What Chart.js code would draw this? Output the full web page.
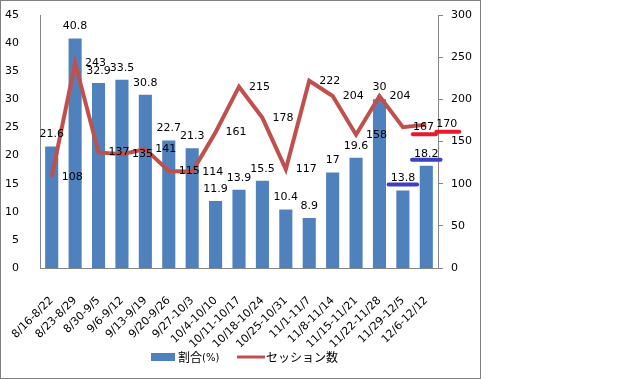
<!DOCTYPE html>
<html>
<head>
<meta charset="utf-8">
<script src="https://cdn.jsdelivr.net/npm/chart.js@4.4.1/dist/chart.umd.min.js"></script>
<style>
  html, body { margin: 0; padding: 0; background: #fff; }
  #wrap { position: absolute; left: 0; top: 0; width: 481px; height: 379px; }
  #frame {
    position: absolute; left: 0; top: 0; width: 481px; height: 379px;
    border: 1px solid #808080; box-sizing: border-box; pointer-events: none;
  }
</style>
</head>
<body>
<div id="wrap"><canvas id="week_chart"></canvas></div>
<div id="frame"></div>
<script>
const categories = [
    '8/16-8/22', '8/23-8/29', '8/30-9/5', '9/6-9/12', '9/13-9/19',
    '9/20-9/26', '9/27-10/3', '10/4-10/10', '10/11-10/17', '10/18-10/24',
    '10/25-10/31', '11/1-11/7', '11/8-11/14', '11/15-11/21', '11/22-11/28',
    '11/29-12/5', '12/6-12/12'
];
const shareValues = [21.6, 40.8, 32.9, 33.5, 30.8, 22.7, 21.3, 11.9, 13.9, 15.5, 10.4, 8.9, 17, 19.6, 30, 13.8, 18.2];
const sessionValues = [108, 243, 137, 135, 141, 115, 114, 161, 215, 178, 117, 222, 204, 158, 204, 167, 170];
const leftAxisMax = 45;
const rightAxisMax = 300;

const numFont = '11px "DejaVu Sans"';
const jpFont = '"Noto Sans CJK JP", "DejaVu Sans"';
const axisGray = '#868686';

// value labels like Excel: above bars, right of line points
const valueLabels = {
    id: 'valueLabels',
    afterDatasetsDraw(chart) {
        const ctx = chart.ctx;
        ctx.save();
        ctx.font = numFont;
        ctx.fillStyle = '#000';
        ctx.textBaseline = 'middle';
        chart.getDatasetMeta(0).data.forEach((bar, i) => {
            ctx.textAlign = 'center';
            ctx.fillText(String(shareValues[i]), bar.x, bar.y - 12);
        });
        chart.getDatasetMeta(1).data.forEach((pt, i) => {
            ctx.textAlign = 'left';
            ctx.fillText(String(sessionValues[i]), pt.x + 10, pt.y);
        });

        // hand-drawn highlight strokes under the last two weeks
        ctx.lineCap = 'round';
        ctx.lineWidth = 4;
        const bars = chart.getDatasetMeta(0).data;
        const pts = chart.getDatasetMeta(1).data;
        ctx.strokeStyle = '#3c40c6';
        [15, 16].forEach(i => {
            const w = ctx.measureText(String(shareValues[i])).width;
            ctx.beginPath();
            ctx.moveTo(bars[i].x - w / 2 - 2, bars[i].y - 6);
            ctx.lineTo(bars[i].x + w / 2 + 2, bars[i].y - 6);
            ctx.stroke();
        });
        ctx.strokeStyle = '#e8192c';
        [15, 16].forEach(i => {
            const w = ctx.measureText(String(sessionValues[i])).width;
            ctx.beginPath();
            ctx.moveTo(pts[i].x + 10, pts[i].y + 7);
            ctx.lineTo(pts[i].x + 12 + w, pts[i].y + 7);
            ctx.stroke();
        });
        ctx.restore();
    }
};

// legend at the bottom, drawn by hand so "(%)" can be smaller
const bottomLegend = {
    id: 'bottomLegend',
    afterDraw(chart) {
        const ctx = chart.ctx;
        const y = 357;
        ctx.save();
        ctx.fillStyle = '#4f81bd';
        ctx.fillRect(151, y - 4, 24, 8);
        ctx.fillStyle = '#000';
        ctx.textBaseline = 'middle';
        ctx.textAlign = 'left';
        ctx.font = '12px ' + jpFont;
        ctx.fillText('割合', 178, y);
        const w = ctx.measureText('割合').width;
        ctx.font = '10px "DejaVu Sans"';
        ctx.fillText('(%)', 178 + w, y + 1);
        ctx.strokeStyle = '#c0504d';
        ctx.lineWidth = 3;
        ctx.beginPath();
        ctx.moveTo(237, y);
        ctx.lineTo(265, y);
        ctx.stroke();
        ctx.font = '12px ' + jpFont;
        ctx.fillText('セッション数', 266, y);
        ctx.restore();
    }
};

// keep the plot box fixed: tick padding should not move the plot area
const fixWidth = (w) => (s) => {
    s.width = w;
    s.paddingTop = 0;
    s.paddingBottom = 0;
};
const fixHeight = (h) => (s) => {
    s.height = h;
    s.paddingLeft = 0;
    s.paddingRight = 0;
};

const config = {
    data: {
        labels: categories,
        datasets: [{
            type: 'bar',
            label: '割合(%)',
            data: shareValues,
            backgroundColor: '#4f81bd',
            yAxisID: 'y',
            categoryPercentage: 1,
            barPercentage: 0.56,
            order: 1
        }, {
            type: 'line',
            label: 'セッション数',
            data: sessionValues,
            borderColor: '#c0504d',
            borderWidth: 4,
            pointRadius: 0,
            tension: 0,
            yAxisID: 'y1',
            order: 0
        }]
    },
    options: {
        responsive: true,
        maintainAspectRatio: false,
        animation: false,
        layout: {
            padding: { top: 15, left: 0, right: 0, bottom: 0 }
        },
        plugins: {
            legend: { display: false },
            tooltip: { enabled: false }
        },
        scales: {
            x: {
                grid: { display: false },
                border: { color: axisGray },
                ticks: {
                    color: '#000',
                    font: { family: 'DejaVu Sans', size: 11 },
                    minRotation: 45,
                    maxRotation: 45,
                    padding: 18,
                    autoSkip: false
                },
                afterFit: fixHeight(111)
            },
            y: {
                position: 'left',
                min: 0,
                max: leftAxisMax,
                grid: { display: false },
                border: { color: axisGray },
                ticks: {
                    stepSize: 5,
                    color: '#000',
                    font: { family: 'DejaVu Sans', size: 11 },
                    padding: 13
                },
                afterFit: fixWidth(40)
            },
            y1: {
                position: 'right',
                min: 0,
                max: rightAxisMax,
                grid: { drawOnChartArea: false, color: axisGray, tickLength: 5 },
                border: { color: axisGray },
                ticks: {
                    stepSize: 50,
                    color: '#000',
                    font: { family: 'DejaVu Sans', size: 11 },
                    padding: 8
                },
                afterFit: fixWidth(43)
            }
        }
    },
    plugins: [valueLabels, bottomLegend]
};

const weekChart = new Chart(document.getElementById('week_chart'), config);
</script>
</body>
</html>
